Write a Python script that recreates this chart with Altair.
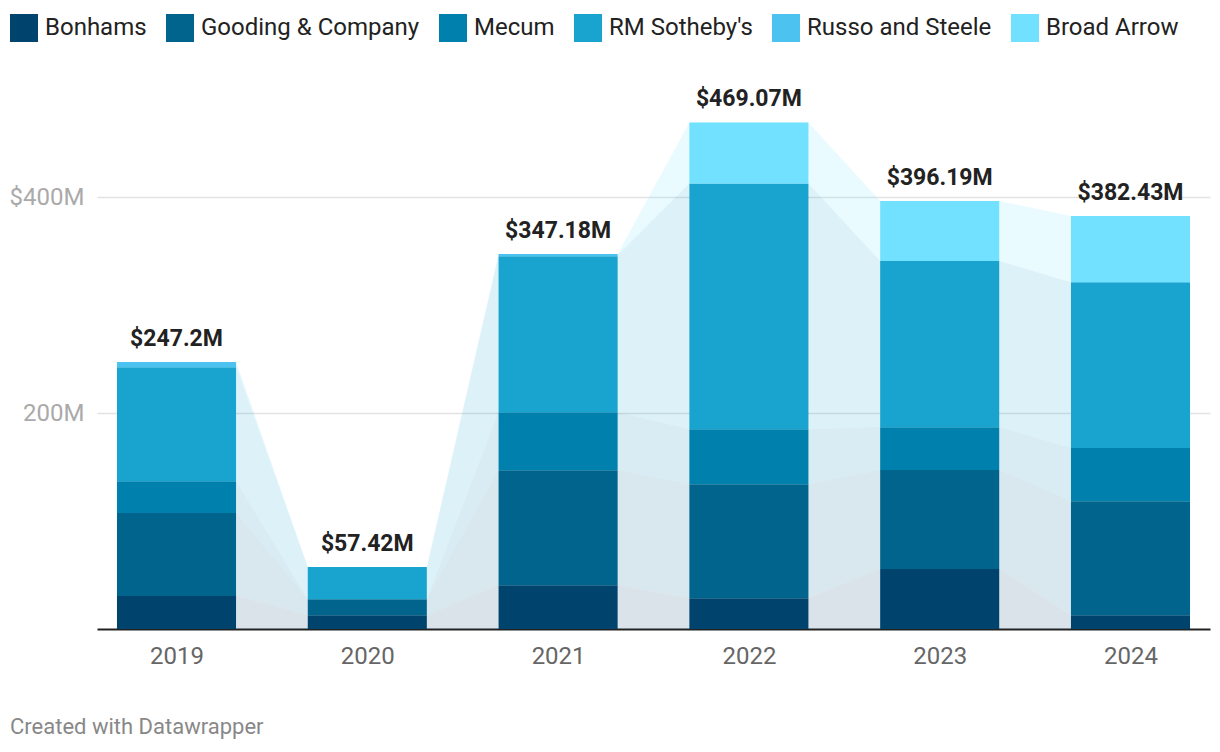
import altair as alt
import pandas as pd

years = [2019, 2020, 2021, 2022, 2023, 2024]
series = ["Bonhams", "Gooding & Company", "Mecum", "RM Sotheby's", "Russo and Steele", "Broad Arrow"]
colors = ["#00446e", "#00648d", "#0081ad", "#19a3cf", "#4bc2ef", "#72e1ff"]

bonhams = [30.6, 12.7, 40.5, 28.4, 55.6, 12.7]
gooding = [76.8, 14.8, 106.5, 105.6, 91.6, 105.5]
mecum = [29.4, 0.0, 53.6, 50.9, 39.6, 49.4]
rm_sothebys = [105.5, 29.92, 144.5, 227.6, 153.9, 153.4]
russo = [4.9, 0.0, 2.08, 0.0, 0.0, 0.0]
broad_arrow = [0.0, 0.0, 0.0, 56.57, 55.49, 61.43]

totals = [247.2, 57.42, 347.18, 469.07, 396.19, 382.43]
total_labels = ["$247.2M", "$57.42M", "$347.18M", "$469.07M", "$396.19M", "$382.43M"]
footer = "Created with Datawrapper"

values = [bonhams, gooding, mecum, rm_sothebys, russo, broad_arrow]
rows = []
for k, (name, vals) in enumerate(zip(series, values)):
    for y, v in zip(years, vals):
        rows.append({"series": name, "year": y, "value": v, "order": k})
df = pd.DataFrame(rows)

edge_rows = []
for r in rows:
    for e in (-1, 1):
        d = dict(r)
        d["edge"] = e
        edge_rows.append(d)
df_edges = pd.DataFrame(edge_rows)

df_tot = pd.DataFrame({"year": years, "total": totals, "label": total_labels})
df_foot = pd.DataFrame({"t": [footer]})

HALF = 0.312
FONT = "Roboto"

xscale = alt.Scale(domain=[2018.5833, 2024.4167], nice=False, zero=False)
yscale = alt.Scale(domain=[0, 500], nice=False)

xaxis = alt.Axis(values=years, format="d", title=None, ticks=False, grid=False,
                 domain=True, domainColor="#222222", domainWidth=2,
                 labelFont=FONT, labelFontSize=24, labelColor="#666666",
                 labelPadding=15)
yaxis = alt.Axis(values=[200, 400], title=None, ticks=False, domain=False, grid=True,
                 gridColor="#e3e3e3", gridWidth=1.5,
                 labelExpr="datum.value == 400 ? '$400M' : datum.value + 'M'",
                 labelFont=FONT, labelFontSize=24, labelColor="#aaaaaa",
                 labelPadding=13)

color_scale = alt.Scale(domain=series, range=colors)

legend = alt.Legend(
    title=None, orient="none", legendX=-87, legendY=-75, direction="horizontal",
    columns=6, symbolType="square", symbolSize=784,
    symbolStrokeWidth=0, symbolOpacity=1, labelFont=FONT, labelFontSize=24,
    labelColor="#222222", labelLimit=400, labelOffset=7, columnPadding=19,
    padding=0,
)

areas = alt.Chart(df_edges).transform_stack(
    stack="value", groupby=["year", "edge"], as_=["y0", "y1"],
    sort=[alt.SortField("order", "ascending")],
).transform_calculate(
    xp=f"datum.year + datum.edge * {HALF}"
).mark_area(opacity=0.15, interpolate="linear").encode(
    x=alt.X("xp:Q", scale=xscale, axis=xaxis),
    y=alt.Y("y0:Q", scale=yscale, axis=yaxis),
    y2="y1:Q",
    color=alt.Color("series:N", scale=color_scale, legend=legend),
    detail="series:N",
)

bars = alt.Chart(df).transform_stack(
    stack="value", groupby=["year"], as_=["y0", "y1"],
    sort=[alt.SortField("order", "ascending")],
).transform_calculate(
    xa=f"datum.year - {HALF}", xb=f"datum.year + {HALF}"
).mark_bar(strokeWidth=0).encode(
    x=alt.X("xa:Q", scale=xscale, axis=xaxis),
    x2="xb:Q",
    y=alt.Y("y0:Q", scale=yscale, axis=yaxis),
    y2="y1:Q",
    color=alt.Color("series:N", scale=color_scale, legend=legend),
)

labels = alt.Chart(df_tot).mark_text(
    font=FONT, fontSize=23, fontWeight="bold", color="#222222",
    baseline="alphabetic", align="center", dy=-16,
).encode(
    x=alt.X("year:Q", scale=xscale, axis=xaxis),
    y=alt.Y("total:Q", scale=yscale, axis=yaxis),
    text="label:N",
)

foot = alt.Chart(df_foot).mark_text(
    font=FONT, fontSize=22, color="#888888", align="left", baseline="alphabetic",
).encode(
    x=alt.value(-87), y=alt.value(645), text="t:N",
)

chart = alt.layer(areas, bars, labels, foot).properties(
    width=1113, height=540,
    autosize=alt.AutoSizeParams(type="none"),
    padding={"left": 89, "top": 81, "right": 2, "bottom": 115},
    background="white",
).configure_view(stroke=None)

chart.save("out.html", embed_options={"renderer": "svg", "actions": False})
